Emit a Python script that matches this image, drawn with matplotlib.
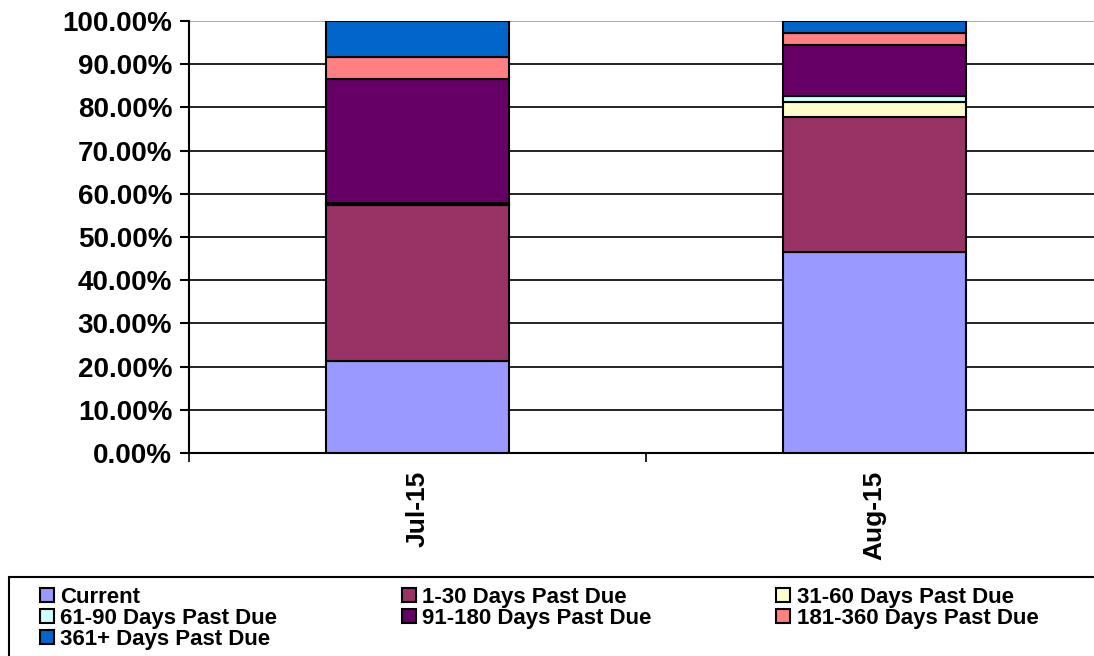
import numpy as np
import matplotlib
matplotlib.use("Agg")
import matplotlib.pyplot as plt
from matplotlib.patches import Rectangle
from matplotlib.ticker import PercentFormatter, FixedLocator

plt.rcParams['font.family'] = ['Liberation Sans', 'DejaVu Sans']
plt.rcParams['font.weight'] = 'bold'

months = ["Jul-15", "Aug-15"]
buckets = ["Current", "1-30 Days Past Due", "31-60 Days Past Due",
           "61-90 Days Past Due", "91-180 Days Past Due",
           "181-360 Days Past Due", "361+ Days Past Due"]
# share of balance per bucket (%)
current = [21.4, 46.5]
d1_30 = [36.0, 31.2]
d31_60 = [0.2, 3.6]
d61_90 = [0.2, 1.4]
d91_180 = [28.8, 11.7]
d181_360 = [5.0, 2.8]
d361 = [8.4, 2.8]
colors = ["#9999FF", "#993366", "#FFFFCC", "#CCFFFF", "#660066", "#FF8080", "#0066CC"]

series = [current, d1_30, d31_60, d61_90, d91_180, d181_360, d361]

fig = plt.figure(figsize=(10.94, 6.56), dpi=100)
ax = fig.add_axes([189/1094, 1-453/656, 914/1094, 432/656])

x = np.arange(len(months))
bottom = np.zeros(len(months))
bars = []
for vals, name, c in zip(series, buckets, colors):
    b = ax.bar(x, vals, 0.40, bottom=bottom, color=c, edgecolor='black',
               linewidth=1.5, label=name, zorder=3)
    bars.append(b)
    bottom += np.array(vals)

ax.set_xlim(-0.5, 1.5)
ax.set_ylim(0, 100)
ax.yaxis.set_major_locator(FixedLocator(np.arange(0, 101, 10)))
ax.yaxis.set_major_formatter(PercentFormatter(xmax=100, decimals=2))
ax.grid(axis='y', color='black', linewidth=1.2, zorder=0)
ax.yaxis.get_gridlines()[-1].set_color('#999999')
ax.set_axisbelow(True)

ax.set_xticks(x)
ax.set_xticklabels(months, rotation=90, fontsize=19, fontweight='bold')
ax.set_xticks([-0.5, 0.5, 1.5], minor=True)
ax.tick_params(axis='x', which='major', length=0, pad=13)
ax.tick_params(axis='x', which='minor', length=6.5, width=1.2, direction='out')
ax.tick_params(axis='y', length=6.5, width=1.5, pad=5.5, labelsize=20)
for lab in ax.get_yticklabels():
    lab.set_fontweight('bold')

for s in ['top', 'right']:
    ax.spines[s].set_visible(False)
ax.spines['left'].set_linewidth(1.5)
ax.spines['bottom'].set_linewidth(1.5)

# legend frame running off the right and bottom edge
fig.patches.append(Rectangle((9/1094, -0.1), 1.2, (656-577)/656 + 0.1,
                             transform=fig.transFigure, fill=False,
                             edgecolor='black', linewidth=1.5))

order = [0, 3, 6, 1, 4, 2, 5]
leg = fig.legend([bars[i] for i in order], [buckets[i] for i in order],
                 loc='upper left', bbox_to_anchor=(40/1094, 1-587/656),
                 ncol=3, frameon=False, borderpad=0,
                 borderaxespad=0, handlelength=0.62, handleheight=0.62,
                 handletextpad=0.3, labelspacing=0.0, columnspacing=5.6,
                 prop={'weight': 'bold', 'size': 16})

fig.savefig("out.png", dpi=100)
